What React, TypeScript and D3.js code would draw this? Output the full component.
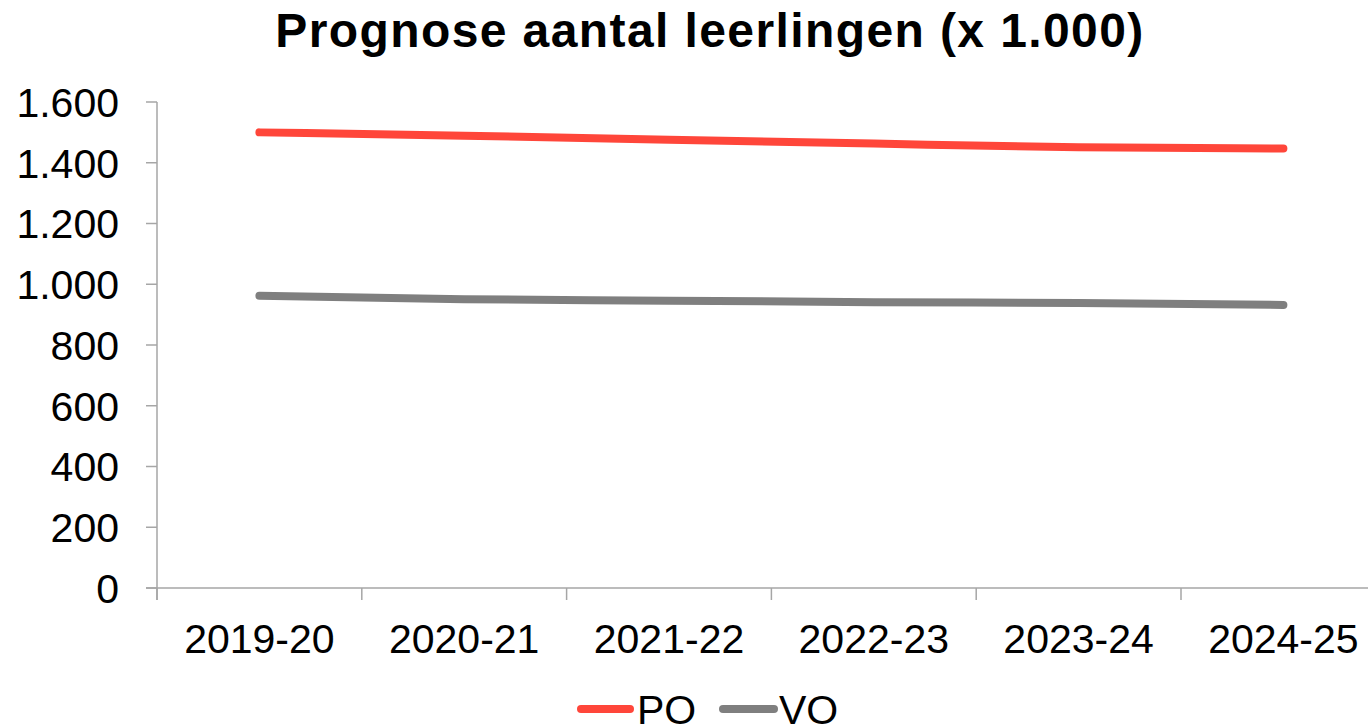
import * as d3 from "d3";

const years = ["2019-20", "2020-21", "2021-22", "2022-23", "2023-24", "2024-25"];
const po = [1500, 1489, 1476, 1463, 1451, 1447];
const vo = [962, 951, 946, 941, 938, 932];
const yTicks = [0, 200, 400, 600, 800, 1000, 1200, 1400, 1600];

const fmt = (v: number) => (v >= 1000 ? d3.format(",")(v).replace(",", ".") : String(v));

export default function App() {
  const width = 1368;
  const height = 726;
  const left = 157;
  const band = 204.8;
  const top = 102;
  const bottom = 588;

  const xScale = d3
    .scaleBand()
    .domain(years)
    .range([left, left + band * years.length]);
  const yScale = d3.scaleLinear().domain([0, 1600]).range([bottom, top]);

  const line = d3
    .line<number>()
    .x((_, i) => xScale(years[i])! + xScale.bandwidth() / 2)
    .y((d) => yScale(d))
    .curve(d3.curveMonotoneX);

  const axisColor = "#a6a6a6";
  const font = "'Liberation Sans', Arial, sans-serif";

  return (
    <div style={{ position: "absolute", left: 0, top: 0 }}>
      <svg width={width} height={height} style={{ display: "block" }} fontFamily={font}>
        <text
          x={710}
          y={47}
          textAnchor="middle"
          fontSize={48}
          fontWeight="bold"
          letterSpacing={1.4}
          fill="#000"
        >
          Prognose aantal leerlingen (x 1.000)
        </text>

        {/* y axis */}
        <line x1={left} x2={left} y1={top} y2={bottom + 12} stroke={axisColor} strokeWidth={1.5} />
        {yTicks.map((t) => (
          <g key={t}>
            <line x1={left - 11} x2={left} y1={yScale(t)} y2={yScale(t)} stroke={axisColor} strokeWidth={1.5} />
            <text x={119} y={yScale(t)} dy="0.36em" textAnchor="end" fontSize={41} fill="#000">
              {fmt(t)}
            </text>
          </g>
        ))}

        {/* x axis */}
        <line x1={left - 11} x2={width} y1={bottom} y2={bottom} stroke={axisColor} strokeWidth={1.5} />
        {years.map((y) => (
          <g key={y}>
            <line x1={xScale(y)!} x2={xScale(y)!} y1={bottom} y2={bottom + 12} stroke={axisColor} strokeWidth={1.5} />
            <text
              x={xScale(y)! + xScale.bandwidth() / 2}
              y={653}
              textAnchor="middle"
              fontSize={41}
              fill="#000"
            >
              {y}
            </text>
          </g>
        ))}

        <path d={line(vo)!} fill="none" stroke="#7f7f7f" strokeWidth={8} strokeLinecap="round" />
        <path d={line(po)!} fill="none" stroke="#ff463a" strokeWidth={8} strokeLinecap="round" />

        {/* legend */}
        <line x1={581} x2={630} y1={709} y2={709} stroke="#ff463a" strokeWidth={8} strokeLinecap="round" />
        <text x={637} y={724} fontSize={41} fill="#000">PO</text>
        <line x1={723} x2={774} y1={709} y2={709} stroke="#7f7f7f" strokeWidth={8} strokeLinecap="round" />
        <text x={779} y={724} fontSize={41} fill="#000">VO</text>
      </svg>
    </div>
  );
}
